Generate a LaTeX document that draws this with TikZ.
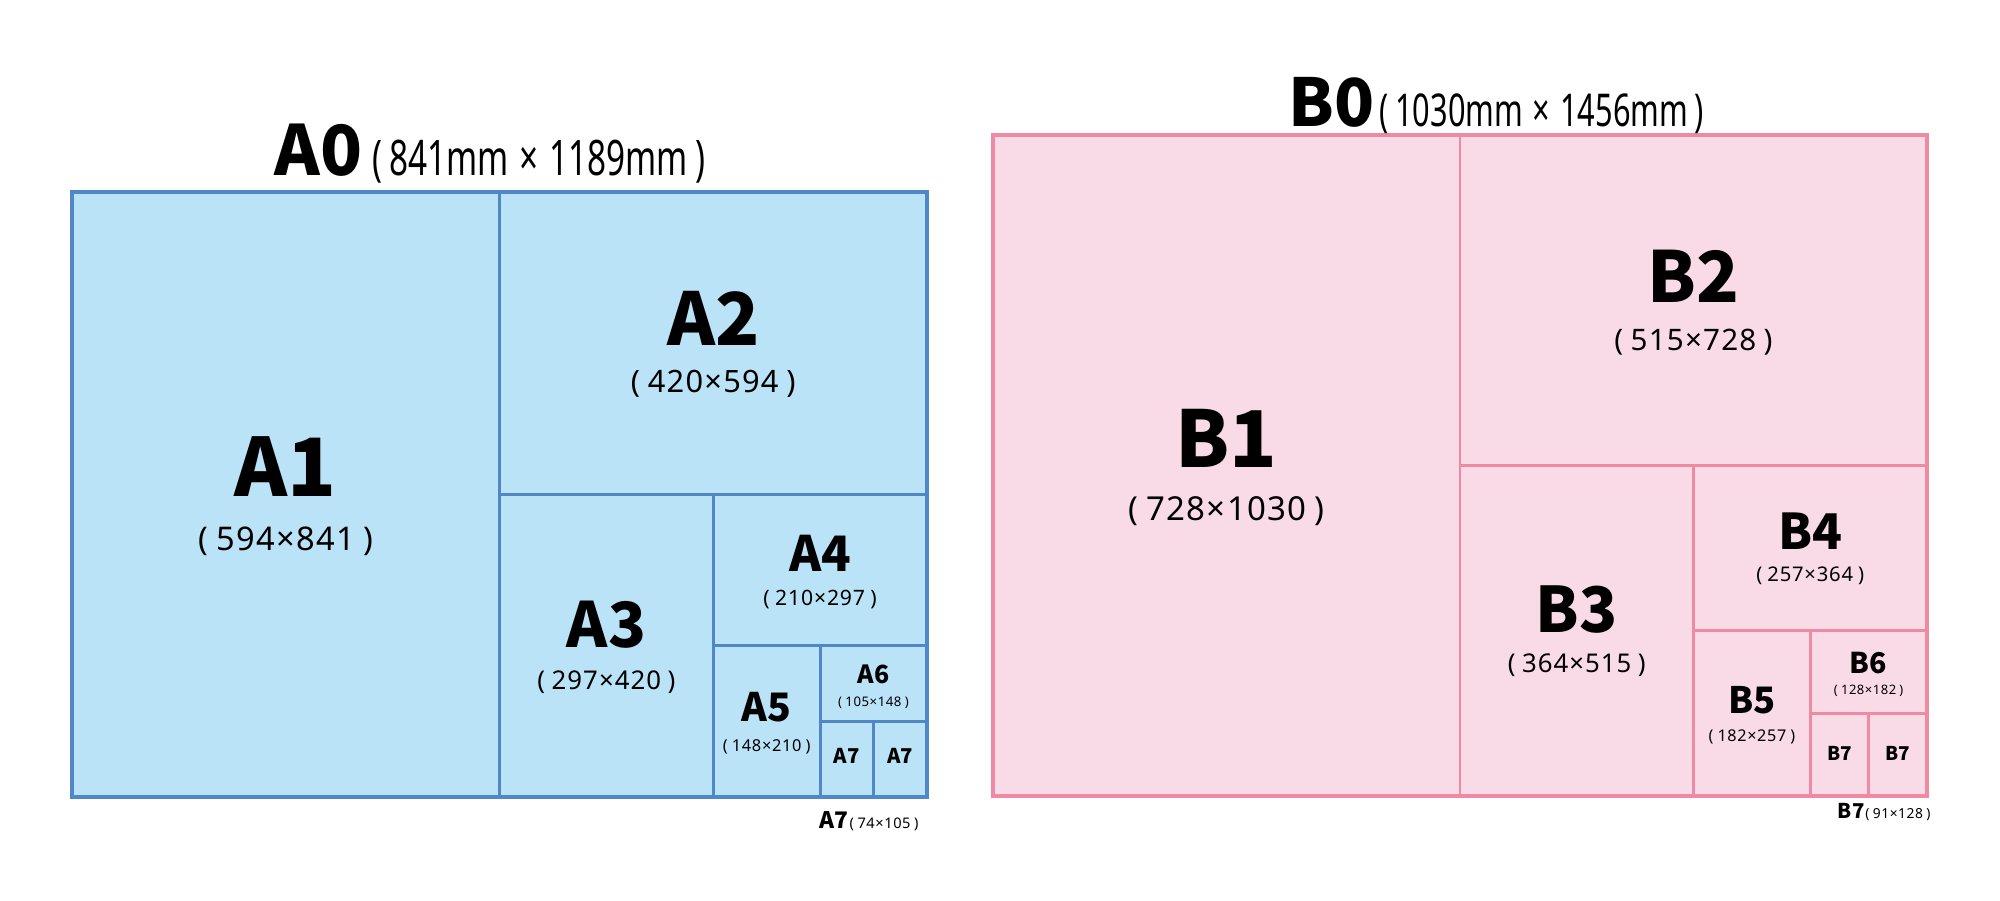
\documentclass[tikz,border=0pt]{standalone}
\usepackage{fontspec}
\setmainfont{Noto Sans}[LetterSpace=4]
\newfontfamily\labelfont{Noto Sans CJK JP}
\newfontfamily\narrowfont{Noto Sans}[FakeStretch=0.68]
\usetikzlibrary{positioning}
\definecolor{aFill}{HTML}{BAE3F8}
\definecolor{aBorder}{HTML}{4F87C7}
\definecolor{bFill}{HTML}{F9DBE7}
\definecolor{bBorder}{HTML}{EE8AA1}
\newcommand{\timesmark}{\hspace{0.04em}×\hspace{0.04em}}
\newcommand{\dimtext}[2][0.25em]{(\hspace{#1}#2\hspace{#1})}

\begin{document}
\begin{tikzpicture}[
  x=0.5pt, y=-0.5pt,
  sheetA/.style={draw=aBorder, fill=aFill, line width=1.5pt},
  sheetB/.style={draw=bBorder, fill=bFill, line width=1.4pt},
  outline/.style={fill=none, line width=2pt},
  sizelabel/.style={anchor=base, inner sep=0pt, font=\labelfont\fontsize{#1}{#1}\selectfont\bfseries},
  sizedim/.style={anchor=base, inner sep=0pt, font=\fontsize{#1}{#1}\selectfont},
  titledim/.style={anchor=base west, inner sep=0pt, font=\narrowfont\fontsize{#1}{#1}\selectfont}
]
\useasboundingbox (0,0) rectangle (2000,900);

% A series sheets
\draw[sheetA] (72,192) rectangle (499.5,797);
\draw[sheetA] (499.5,192) rectangle (927,494.5);
\draw[sheetA] (499.5,494.5) rectangle (713.25,797);
\draw[sheetA] (713.25,494.5) rectangle (927,645.75);
\draw[sheetA] (713.25,645.75) rectangle (820.1,797);
\draw[sheetA] (820.1,645.75) rectangle (927,721.4);
\draw[sheetA] (820.1,721.4) rectangle (873.5,797);
\draw[sheetA] (873.5,721.4) rectangle (927,797);
\draw[sheetA, outline] (72,192) rectangle (927,797);

% B series sheets
\draw[sheetB] (993,135) rectangle (1460,796);
\draw[sheetB] (1460,135) rectangle (1927,465.5);
\draw[sheetB] (1460,465.5) rectangle (1693.5,796);
\draw[sheetB] (1693.5,465.5) rectangle (1927,630.75);
\draw[sheetB] (1693.5,630.75) rectangle (1810.25,796);
\draw[sheetB] (1810.25,630.75) rectangle (1927,713.4);
\draw[sheetB] (1810.25,713.4) rectangle (1868.6,796);
\draw[sheetB] (1868.6,713.4) rectangle (1927,796);
\draw[sheetB, outline, line width=1.75pt] (993,135) rectangle (1927,796);

% titles
\node[sizelabel=34.6, anchor=base west] (a0) at (274,175) {A0};
\node[titledim=24.5, xshift=4.5pt] (a0dim) at (a0.base east) {\dimtext[0.15em]{841mm \timesmark\ 1189mm}};
\node[sizelabel=33, anchor=base west] (b0) at (1288,126.7) {B0};
\node[titledim=22.6, xshift=2pt] (b0dim) at (b0.base east) {\dimtext[0.15em]{1030mm \timesmark\ 1456mm}};

% A labels
\node[sizelabel=40.2] (a1) at (285.75,496) {A1};
\node[sizedim=16.3] (a1dim) at (285.75,550) {\dimtext{594\timesmark 841}};
\node[sizelabel=36.4] (a2) at (713.25,345) {A2};
\node[sizedim=15.4] (a2dim) at (713.25,392.7) {\dimtext{420\timesmark 594}};
\node[sizelabel=31.2] (a3) at (606.4,647.3) {A3};
\node[sizedim=12.9] (a3dim) at (606.4,689.3) {\dimtext{297\timesmark 420}};
\node[sizelabel=24.4] (a4) at (820.1,571.7) {A4};
\node[sizedim=10.6] (a4dim) at (820.1,605) {\dimtext{210\timesmark 297}};
\node[sizelabel=19.6] (a5) at (766.7,721.7) {A5};
\node[sizedim=8.2] (a5dim) at (766.7,751) {\dimtext{148\timesmark 210}};
\node[sizelabel=12.5] (a6) at (873.5,683.3) {A6};
\node[sizedim=6.6] (a6dim) at (873.5,706) {\dimtext{105\timesmark 148}};
\node[sizelabel=10.2] (a7l) at (846.8,763.3) {A7};
\node[sizelabel=10.2] (a7r) at (900.25,763.3) {A7};
\node[sizedim=7.3, anchor=base east] (a7dim) at (919,828.3) {\dimtext{74\timesmark 105}};
\node[sizelabel=11.4, anchor=base east] (a7key) at (a7dim.base west) {A7};

% B labels
\node[sizelabel=39.1] (b1) at (1226.5,467.3) {B1};
\node[sizedim=16.5] (b1dim) at (1226.5,520.7) {\dimtext{728\timesmark 1030}};
\node[sizelabel=35.2] (b2) at (1693.5,302.3) {B2};
\node[sizedim=14.8] (b2dim) at (1693.5,350) {\dimtext{515\timesmark 728}};
\node[sizelabel=31.4] (b3) at (1576.75,632.7) {B3};
\node[sizedim=12.9] (b3dim) at (1576.75,672.7) {\dimtext{364\timesmark 515}};
\node[sizelabel=24.6] (b4) at (1810.25,549.3) {B4};
\node[sizedim=10.1] (b4dim) at (1810.25,581.7) {\dimtext{257\timesmark 364}};
\node[sizelabel=18.2] (b5) at (1751.9,713.3) {B5};
\node[sizedim=8.1] (b5dim) at (1751.9,741) {\dimtext{182\timesmark 257}};
\node[sizelabel=14.3] (b6) at (1868.6,673.3) {B6};
\node[sizedim=6.5] (b6dim) at (1868.6,694.5) {\dimtext{128\timesmark 182}};
\node[sizelabel=9.5] (b7l) at (1839.4,760) {B7};
\node[sizelabel=9.5] (b7r) at (1897.8,760) {B7};
\node[sizedim=6.9, anchor=base east] (b7dim) at (1931,818.3) {\dimtext{91\timesmark 128}};
\node[sizelabel=10.2, anchor=base east] (b7key) at (b7dim.base west) {B7};

\end{tikzpicture}
\end{document}
